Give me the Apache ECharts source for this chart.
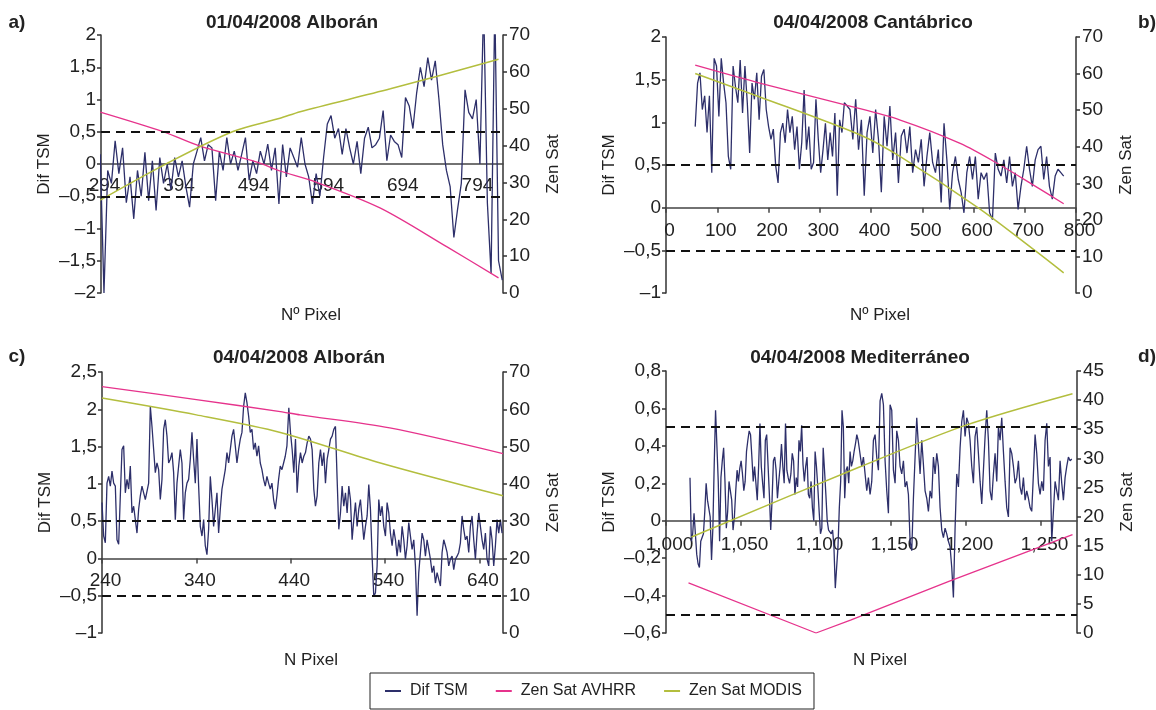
<!DOCTYPE html>
<html>
<head>
<meta charset="utf-8">
<script src="https://cdn.jsdelivr.net/npm/echarts@6/dist/echarts.min.js"></script>
<style>
html, body { margin: 0; padding: 0; background: #fff; }
#chart { width: 1156px; height: 710px; }
</style>
</head>
<body>
<div id="chart"></div>
<script>
// ---- data ----
// a) 01/04/2008 Alborán  (pixel 293 .. 832)
var aTicks = [294, 394, 494, 594, 694, 794];
var aDif = [0.15, -2.0, -0.1, -0.3, 0.36, -0.15, 0.25, -0.6, -0.2, -0.85,
	-0.1, -0.5, 0.18, -0.57, 0.05, -0.72, 0.1, -0.3, 0.0, -0.4,
	0.1, -0.2, 0.05, -0.35, -0.67, 0.0, 0.2, 0.41, 0.05, 0.3,
	0.25, -0.57, 0.2, -0.1, 0.41, 0.0, 0.2, -0.1, 0.15, 0.41,
	-0.25, 0.05, -0.15, 0.2, 0.0, 0.31, -0.1, 0.25, -0.62, 0.3,
	-0.2, 0.25, 0.1, -0.05, 0.41, 0.0, -0.2, -0.62, -0.15, -0.5,
	0.1, 0.62, 0.75, 0.4, 0.55, 0.15, 0.55, 0.25, 0.0, 0.35,
	-0.15, 0.4, 0.57, 0.25, 0.3, 0.4, 0.83, 0.05, 0.45, 0.35,
	0.3, 0.1, 1.03, 0.9, 0.55, 1.1, 1.5, 1.2, 1.65, 1.3,
	1.6, 1.0, 0.3, -0.1, -0.35, -1.14, -0.7, -0.3, 1.15, 0.8,
	0.7, 1.0, 0.0, 2.5, -0.6, -1.7, 2.5, -1.5, -1.8];
var aAvhrr = [[293, 49.1], [377, 43.8], [426, 39.9], [503, 35.5], [534, 33.1], [578, 30.4], [668, 23.1], [758, 12.5], [827, 4.1]];
var aModis = [[293, 25.2], [382, 35.1], [471, 43.8], [534, 47.4], [561, 49.2], [682, 55.4], [827, 63.4]];

// b) 04/04/2008 Cantábrico
var bDif1 = [0.95, 1.46, 1.58, 1.15, 1.31, 0.88, 1.31, 0.41, 1.75, 1.66,
	1.07, 1.75, 1.46, 1.23, 0.60, 0.45, 1.66, 1.42, 1.23, 1.73,
	1.11, 1.66, 1.23, 0.64, 1.46, 1.27, 1.58, 1.03, 1.54, 1.62,
	1.15, 0.95, 0.80, 0.92, 0.49, 0.29, 0.88, 0.99, 0.76, 1.15,
	0.88, 1.07, 0.68, 0.95, 0.45, 0.76, 1.38, 0.68, 0.95, 0.45,
	0.53, 1.27, 0.80, 0.41, 0.68, 0.99, 0.56, 0.88, 0.60, 1.11,
	0.14, 1.03, 0.88, 1.23];
var bDif2 = [1.15, 0.80, 1.27, 0.68, 1.03, 0.14, 0.88, 1.07, 0.64, 1.15,
	0.80, 0.18, 1.07, 0.72, 1.19, 0.56, 0.88, 0.29, 0.84, 0.92,
	0.64, 0.95, 0.41, 0.68, 0.53, 0.80, 0.25, 0.60, 0.88, 0.53,
	0.41, 0.68, 0.06, 0.99, 0.56, -0.02, 0.41, 0.60, 0.33, 0.18,
	-0.06, 0.41, 0.60, 0.33, 0.60, 0.10, 0.41, 0.33, 0.41, -0.06,
	-0.14, 0.64, 0.45, 0.37, 0.56, 0.29, 0.60, 0.25, 0.41, -0.02,
	0.25, 0.45, 0.72, 0.45, 0.25, 0.56, 0.68, 0.72, 0.33, 0.60,
	0.25, 0.10, 0.37, 0.45, 0.41, 0.37];
var bAvhrr = [[57, 62.3], [183, 57.4], [359, 51.1], [457, 47.3], [574, 40.9], [652, 35.0], [717, 29.5], [776, 24.4]];
var bModis = [[57, 60.0], [183, 53.6], [379, 43.2], [458, 37.2], [610, 23.2], [721, 11.5], [776, 5.5]];

// c) 04/04/2008 Alborán
var cTicks = [240, 340, 440, 540, 640];
var cDif1 = [0.75, 0.30, 0.21, 1.01, 1.10, 0.97, 1.17, 1.01, 0.97, 0.25,
	0.19, 0.84, 1.46, 1.51, 0.88, 1.06, 0.93, 1.24, 0.61, 0.70,
	0.52, 0.34, 0.66, 0.84, 0.97, 0.88, 0.79, 0.79, 1.01, 2.04,
	1.77, 1.46, 1.15, 1.28, 1.19, 0.79, 1.06, 1.73, 1.86, 1.64,
	1.28, 1.33, 1.42, 1.15, 0.52, 1.01, 1.24, 1.46, 1.28, 0.52,
	0.88, 1.01, 1.06, 1.33, 1.69, 1.33, 1.01, 1.60, 0.97, 0.43,
	0.30, 0.52, 0.17, 0.05, 0.39, 1.10, 0.79, 0.43, 0.66, 0.88,
	0.34, 0.66, 0.93, 1.06, 1.19, 1.42, 1.28, 1.46, 1.64, 1.73,
	1.51, 1.28, 1.46, 1.60, 1.69, 2.04, 2.22, 2.09, 1.91, 1.69,
	1.73, 1.46, 1.55, 1.37, 1.51, 1.28, 1.19, 1.06, 0.97, 1.10,
	1.01, 0.93, 1.01, 0.79, 0.66, 0.84, 1.06, 1.24, 1.19, 1.28,
	1.37, 1.51];
var cDif2 = [2.02, 1.69, 1.46, 1.15, 1.60, 0.88, 1.24, 1.42, 1.28, 1.37,
	1.42, 1.55, 1.64, 1.60, 1.46, 0.93, 0.70, 0.84, 1.28, 1.46,
	1.24, 1.42, 1.01, 1.33, 1.46, 1.60, 1.64, 1.73, 1.77, 1.06,
	0.39, 0.61, 0.97, 0.70, 0.88, 0.61, 0.97, 0.79, 0.25, 0.52,
	0.75, 0.43, 0.66, 0.79, 0.52, 0.25, 0.43, 0.57, 0.99, 0.66,
	0.03, -0.51, -0.46, -0.10, 0.79, 0.57, 0.70, 0.43, 0.30, 0.75,
	0.61, 0.34, 0.17, 0.39, 0.25, 0.03, 0.25, 0.08, 0.43, 0.25,
	-0.01, 0.17, 0.48, 0.30, 0.12, 0.25, -0.10, -0.77, -0.19, 0.08,
	0.34, 0.25, 0.03, 0.25, 0.12, -0.01, -0.19, -0.10, -0.33, -0.19,
	-0.28, -0.37, 0.08, 0.25, 0.17, 0.08, -0.10, -0.01, 0.03, -0.15,
	-0.01, 0.03, 0.08, 0.21, 0.57, 0.39, 0.25, 0.30, 0.08, 0.43,
	0.57, 0.25, -0.01, 0.34, 0.61, 0.43, 0.25, 0.12, 0.34, -0.01,
	-0.10, 0.43, 0.25, -0.10, 0.17, 0.52, 0.34, 0.52, 0.34];
var cAvhrr = [[240, 66.1], [340, 62.6], [429, 59.4], [450, 58.5], [545, 55.0], [665, 48.1]];
var cModis = [[240, 63.0], [340, 58.5], [429, 53.8], [535, 45.6], [665, 36.8]];

// d) 04/04/2008 Mediterráneo
var dTicks = [1000, 1050, 1100, 1150, 1200, 1250];
var dDif1 = [0.23, -0.11, -0.07, 0.04, 0.05, -0.18, -0.23, -0.25, -0.11, -0.09,
	-0.07, 0.05, 0.20, 0.11, 0.12, 0.02, -0.21, -0.04, 0.30, 0.59,
	0.60, 0.21, -0.11, 0.23, 0.32, 0.39, 0.21, -0.04, 0.05, 0.21,
	0.20, 0.11, -0.05, 0.02, 0.16, 0.27, 0.21, 0.28, 0.32, 0.25,
	0.16, 0.21, 0.37, 0.43, 0.48, 0.46, 0.34, 0.21, 0.29, 0.20,
	0.11, 0.29, 0.52, 0.29, 0.20, 0.12, 0.43, 0.46, 0.45, 0.14,
	-0.05, 0.11, 0.32, 0.34, 0.27, 0.12, 0.21, 0.29, 0.41, 0.29,
	0.20, 0.52, 0.27, 0.23, 0.20, 0.25, 0.36, 0.32, 0.14, 0.23,
	0.18, 0.43, 0.37, 0.51, 0.30, 0.21, 0.29, 0.34, 0.14, 0.12,
	0.21, 0.07, 0.00, 0.37, 0.29, 0.18, 0.05, -0.07, -0.04, 0.39,
	0.27, 0.14, 0.00, -0.05, -0.05, -0.07, -0.05, -0.14, -0.36, -0.37,
	-0.14, 0.07, 0.21, 0.59, 0.50, 0.12, 0.27, 0.29, 0.20, 0.37,
	0.29, 0.32, 0.37, 0.41, 0.46, 0.43, 0.43];
var dDif2 = [0.29, 0.34, 0.25, 0.16, 0.23, 0.14, 0.21, 0.43, 0.46, 0.34,
	0.27, 0.64, 0.68, 0.62, 0.32, 0.16, 0.04, 0.62, 0.59, 0.27,
	0.20, 0.48, 0.43, 0.29, 0.25, 0.32, 0.18, 0.21, 0.14, -0.11,
	-0.16, 0.12, 0.34, 0.55, 0.55, 0.25, 0.43, 0.30, 0.16, 0.12,
	0.05, 0.16, 0.12, 0.34, 0.25, 0.36, 0.29, 0.07, -0.05, -0.09,
	-0.04, -0.07, -0.11, -0.14, -0.25, -0.41, -0.04, 0.25, 0.18, 0.39,
	0.53, 0.59, 0.45, 0.55, 0.52, 0.43, 0.29, 0.20, 0.45, 0.50,
	0.36, 0.21, 0.09, 0.27, 0.45, 0.59, 0.43, 0.16, 0.11, 0.25,
	0.36, 0.21, 0.50, 0.43, 0.55, 0.37, 0.21, 0.07, 0.02, 0.39,
	0.36, 0.29, 0.20, 0.23, 0.32, 0.18, 0.14, 0.23, 0.11, 0.16,
	0.12, 0.07, 0.05, 0.25, 0.46, 0.36, 0.20, 0.14, 0.21, 0.16,
	0.43, 0.52, 0.29, 0.34, -0.11, -0.11, 0.21, 0.16, 0.11, 0.32,
	0.20, 0.11, 0.23, 0.29, 0.34, 0.32, 0.33];
var dAvhrr = [[1015, 8.6], [1100, 0.0], [1123, 2.2], [1189, 8.9], [1271, 16.9]];
var dModis = [[1017, 16.5], [1129, 28.5], [1200, 35.7], [1271, 41.1]];

// ---- styling ----
var NAVY = '#2d2f6a', PINK = '#e6338c', OLIVE = '#b3be3e';
var FONT = "'Liberation Sans', Arial, sans-serif";

// spread the readings of one stretch evenly between its first and last pixel
function seg(x0, x1, vals) {
	var step = (x1 - x0) / (vals.length - 1);
	return vals.map(function (v, i) { return [x0 + i * step, v]; });
}
function fmtDec(v) {
	return String(Math.round(v * 10) / 10).replace('.', ',').replace('-', '\u2013');
}
function fmtThou(v) {
	return String(v).replace(/\B(?=(\d{3})+(?!\d))/g, ',');
}

function leftY(g, min, max, step) {
	return {
		type: 'value', gridIndex: g, position: 'left', min: min, max: max, interval: step,
		name: 'Dif TSM', nameLocation: 'middle', nameRotate: 90, nameGap: 48,
		nameTextStyle: { fontFamily: FONT, fontSize: 17, color: '#222' },
		axisLine: { show: true, onZero: false, lineStyle: { color: '#333', width: 1.5 } },
		axisTick: { show: true, length: 4, lineStyle: { color: '#333', width: 1.5 } },
		axisLabel: { margin: 5, fontFamily: FONT, fontSize: 19, color: '#222', formatter: fmtDec },
		splitLine: { show: false }
	};
}
function rightY(g, max, step) {
	return {
		type: 'value', gridIndex: g, position: 'right', min: 0, max: max, interval: step,
		name: 'Zen Sat', nameLocation: 'middle', nameRotate: 90, nameGap: 42,
		nameTextStyle: { fontFamily: FONT, fontSize: 17, color: '#222' },
		axisLine: { show: true, onZero: false, lineStyle: { color: '#333', width: 1.5 } },
		axisTick: { show: true, length: 4, lineStyle: { color: '#333', width: 1.5 } },
		axisLabel: { margin: 6, fontFamily: FONT, fontSize: 19, color: '#222' },
		splitLine: { show: false }
	};
}
// labels are pulled up from the grid bottom to sit just under the zero line
function xAx(g, min, max, ticks, fmt, showTick, lift) {
	var ax = {
		type: 'value', gridIndex: g, min: min, max: max,
		axisLine: { show: true, onZero: true, onZeroAxisIndex: 2 * g, lineStyle: { color: '#444', width: 1.5 } },
		axisTick: { show: showTick, length: 5, lineStyle: { color: '#444', width: 1.5 } },
		axisLabel: { margin: lift, fontFamily: FONT, fontSize: 19, color: '#222', padding: [0, 0, 0, 7], formatter: fmt },
		splitLine: { show: false }
	};
	if (Array.isArray(ticks)) {
		ax.axisLabel.customValues = ticks;
		ax.axisTick.customValues = ticks;
	} else {
		ax.interval = ticks;
	}
	return ax;
}
var dashes = {
	silent: true, symbol: ['none', 'none'], label: { show: false },
	lineStyle: { color: '#111', width: 2, type: [9, 6] },
	data: [{ yAxis: 0.5 }, { yAxis: -0.5 }]
};
function panel(g, dif, avhrr, modis, smoothAv) {
	return [{
		name: 'Dif TSM', type: 'line', xAxisIndex: g, yAxisIndex: 2 * g, data: dif,
		symbol: 'none', lineStyle: { color: NAVY, width: 1.3 }, itemStyle: { color: NAVY },
		markLine: dashes
	}, {
		name: 'Zen Sat AVHRR', type: 'line', xAxisIndex: g, yAxisIndex: 2 * g + 1, data: avhrr,
		symbol: 'none', smooth: smoothAv, lineStyle: { color: PINK, width: 1.3 }, itemStyle: { color: PINK }
	}, {
		name: 'Zen Sat MODIS', type: 'line', xAxisIndex: g, yAxisIndex: 2 * g + 1, data: modis,
		symbol: 'none', smooth: 0.3, lineStyle: { color: OLIVE, width: 1.5 }, itemStyle: { color: OLIVE }
	}];
}
function label(txt, x, y, bold, size) {
	return {
		type: 'text', x: x, y: y, silent: true,
		style: { text: txt, align: 'center', verticalAlign: 'middle', fill: '#222',
			font: (bold ? 'bold ' : '') + size + 'px ' + FONT }
	};
}
function ttl(txt, x, y) {
	return { text: txt, left: x, top: y, textAlign: 'center', padding: 0,
		textStyle: { fontFamily: FONT, fontSize: 19, fontWeight: 'bold', color: '#222' } };
}

var option = {
	animation: false,
	backgroundColor: '#fff',
	title: [
		ttl('01/04/2008 Alborán', 292, 13),
		ttl('04/04/2008 Cantábrico', 873, 13),
		ttl('04/04/2008 Alborán', 299, 348),
		ttl('04/04/2008 Mediterráneo', 860, 348)
	],
	legend: {
		data: ['Dif TSM', 'Zen Sat AVHRR', 'Zen Sat MODIS'],
		left: 370, top: 673, padding: [10, 12, 10, 15], itemGap: 28,
		itemWidth: 16, itemHeight: 2, icon: 'rect',
		borderColor: '#222', borderWidth: 1,
		textStyle: { fontFamily: FONT, fontSize: 16, color: '#222', padding: [0, 0, 0, 4] }
	},
	grid: [
		{ left: 101, top: 35, width: 402, height: 258 },
		{ left: 666, top: 37, width: 410, height: 256 },
		{ left: 102, top: 372, width: 401, height: 261 },
		{ left: 666, top: 371, width: 411, height: 262 }
	],
	xAxis: [
		xAx(0, 294, 833, aTicks, null, false, -117),
		xAx(1, 0, 800, 100, null, true, -72),
		xAx(2, 240, 665, cTicks, null, true, -62),
		xAx(3, 1000, 1274, dTicks, fmtThou, true, -98)
	],
	yAxis: [
		leftY(0, -2, 2, 0.5), rightY(0, 70, 10),
		leftY(1, -1, 2, 0.5), rightY(1, 70, 10),
		leftY(2, -1, 2.5, 0.5), rightY(2, 70, 10),
		leftY(3, -0.6, 0.8, 0.2), rightY(3, 45, 5)
	],
	graphic: [
		label('a)', 17, 23, true, 19), label('b)', 1147, 23, true, 19),
		label('c)', 17, 357, true, 19), label('d)', 1147, 357, true, 19),
		label('Nº Pixel', 311, 315, false, 17), label('Nº Pixel', 880, 315, false, 17),
		label('N Pixel', 311, 660, false, 17), label('N Pixel', 880, 660, false, 17)
	],
	series: [].concat(
		panel(0, seg(293, 832, aDif), aAvhrr, aModis, 0.3),
		panel(1, seg(57, 348, bDif1).concat(seg(359, 776, bDif2)), bAvhrr, bModis, 0.3),
		panel(2, seg(240, 436, cDif1).concat(seg(438, 664, cDif2)), cAvhrr, cModis, 0.3),
		panel(3, seg(1016, 1129, dDif1).concat(seg(1130.5, 1270.5, dDif2)), dAvhrr, dModis, false)
	)
};

var myChart = echarts.init(document.getElementById('chart'));
myChart.setOption(option, true);
</script>
</body>
</html>
